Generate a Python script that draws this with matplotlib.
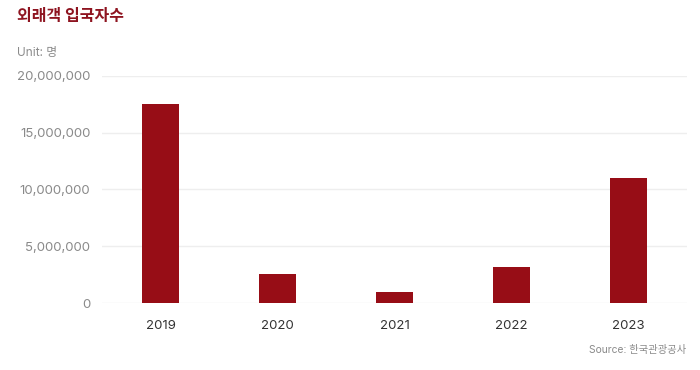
import matplotlib
matplotlib.use("Agg")
import matplotlib.pyplot as plt
from matplotlib.ticker import FuncFormatter

# =========================================================
# DATA
# =========================================================

years = ["2019", "2020", "2021", "2022", "2023"]
visitors = [17502756, 2519118, 967003, 3198017, 11031665]

title = "외래객 입국자수"
unit_label = "Unit: 명"
source_label = "Source: 한국관광공사"

BAR_COLOR = "#970d16"
GRID_COLOR = "#eeeeee"
TEXT_GREY = "#8a8a8a"

plt.rcParams["font.family"] = ["Inter", "Noto Sans CJK KR", "DejaVu Sans"]

# =========================================================
# PLOT
# =========================================================

fig = plt.figure(figsize=(7, 3.7), dpi=100)
ax = fig.add_axes([0.146, 0.181, 0.835, 0.614])

x = range(len(years))
ax.bar(x, visitors, width=0.32, color=BAR_COLOR, zorder=3)

ax.set_xlim(-0.5, len(years) - 0.5)
ax.set_ylim(0, 20000000)
ax.set_yticks([0, 5000000, 10000000, 15000000, 20000000])
ax.yaxis.set_major_formatter(FuncFormatter(lambda v, p: f"{int(v):,}"))
ax.set_xticks(list(x))
ax.set_xticklabels(years)

ax.grid(axis="y", color=GRID_COLOR, linewidth=1, zorder=0)
for side in ["top", "right", "left", "bottom"]:
    ax.spines[side].set_visible(False)

ax.tick_params(axis="y", length=0, pad=8.5, labelsize=9.5, labelcolor=TEXT_GREY)
ax.tick_params(axis="x", length=0, pad=12, labelsize=9.5, labelcolor="#333333")

fig.text(0.024, 0.955, title, fontsize=11.5, fontweight="bold",
         color="#8e1420", ha="left", va="center")
fig.text(0.024, 0.857, unit_label, fontsize=8.5, color=TEXT_GREY,
         ha="left", va="center")
fig.text(0.981, 0.055, source_label, fontsize=7.4, color=TEXT_GREY,
         ha="right", va="center")

fig.savefig("out.png", dpi=100, facecolor="white")
